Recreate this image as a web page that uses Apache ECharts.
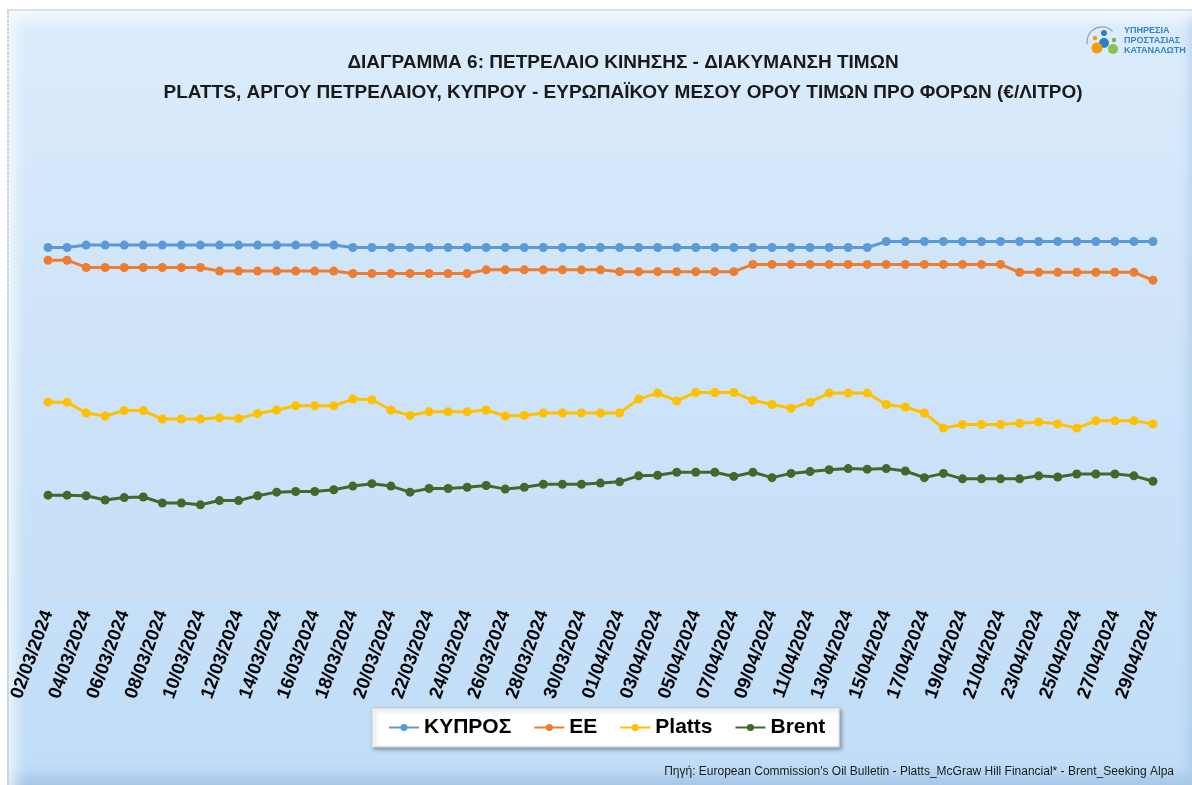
<!DOCTYPE html>
<html>
<head>
<meta charset="utf-8">
<script src="https://cdn.jsdelivr.net/npm/echarts@6/dist/echarts.min.js"></script>
<style>
  html, body { margin: 0; padding: 0; background: #ffffff; }
  #frame {
    position: absolute; left: 7px; top: 9px; width: 1185px; height: 776px;
    box-sizing: border-box;
    border-left: 2px dotted #d0d0d0; border-top: 2px solid #e0e0e0;
    background: linear-gradient(to bottom, #dcecfc 0%, #cfe4f9 40%, #c0ddf7 100%);
    box-shadow: inset 16px 18px 14px -10px rgba(255,255,255,0.75), inset -12px -20px 12px -10px rgba(120,160,200,0.35);
  }
  #chart { position: absolute; left: 0; top: 0; width: 1192px; height: 785px; }
</style>
</head>
<body>
<div id="frame"></div>
<div id="chart"></div>
<script>
const categories = [
  '02/03/2024','03/03/2024','04/03/2024','05/03/2024','06/03/2024','07/03/2024','08/03/2024','09/03/2024','10/03/2024','11/03/2024',
  '12/03/2024','13/03/2024','14/03/2024','15/03/2024','16/03/2024','17/03/2024','18/03/2024','19/03/2024','20/03/2024','21/03/2024',
  '22/03/2024','23/03/2024','24/03/2024','25/03/2024','26/03/2024','27/03/2024','28/03/2024','29/03/2024','30/03/2024','31/03/2024',
  '01/04/2024','02/04/2024','03/04/2024','04/04/2024','05/04/2024','06/04/2024','07/04/2024','08/04/2024','09/04/2024','10/04/2024',
  '11/04/2024','12/04/2024','13/04/2024','14/04/2024','15/04/2024','16/04/2024','17/04/2024','18/04/2024','19/04/2024','20/04/2024',
  '21/04/2024','22/04/2024','23/04/2024','24/04/2024','25/04/2024','26/04/2024','27/04/2024','28/04/2024','29/04/2024'
];
const cyprus = [
  0.872,0.872,0.876,0.876,0.876,0.876,0.876,0.876,0.876,0.876,
  0.876,0.876,0.876,0.876,0.876,0.876,0.872,0.872,0.872,0.872,
  0.872,0.872,0.872,0.872,0.872,0.872,0.872,0.872,0.872,0.872,
  0.872,0.872,0.872,0.872,0.872,0.872,0.872,0.872,0.872,0.872,
  0.872,0.872,0.872,0.872,0.882,0.882,0.882,0.882,0.882,0.882,
  0.882,0.882,0.882,0.882,0.882,0.882,0.882,0.882,0.882
];
const ee = [
  0.851,0.851,0.839,0.839,0.839,0.839,0.839,0.839,0.839,0.833,
  0.833,0.833,0.833,0.833,0.833,0.833,0.829,0.829,0.829,0.829,
  0.829,0.829,0.829,0.835,0.835,0.835,0.835,0.835,0.835,0.835,
  0.832,0.832,0.832,0.832,0.832,0.832,0.832,0.844,0.844,0.844,
  0.844,0.844,0.844,0.844,0.844,0.844,0.844,0.844,0.844,0.844,
  0.844,0.831,0.831,0.831,0.831,0.831,0.831,0.831,0.818
];
const platts = [
  0.616,0.616,0.598,0.593,0.602,0.602,0.588,0.588,0.588,0.590,
  0.589,0.597,0.603,0.610,0.610,0.610,0.621,0.620,0.603,0.594,
  0.600,0.600,0.600,0.603,0.593,0.594,0.598,0.598,0.598,0.598,
  0.598,0.621,0.631,0.618,0.632,0.632,0.632,0.619,0.612,0.606,
  0.616,0.631,0.631,0.631,0.612,0.608,0.598,0.573,0.579,0.579,
  0.579,0.581,0.583,0.580,0.573,0.585,0.585,0.585,0.580
];
const brent = [
  0.462,0.462,0.461,0.454,0.458,0.459,0.449,0.449,0.446,0.453,
  0.453,0.461,0.467,0.468,0.468,0.471,0.477,0.481,0.477,0.467,
  0.473,0.473,0.475,0.478,0.472,0.475,0.480,0.480,0.480,0.482,
  0.484,0.494,0.495,0.500,0.500,0.500,0.493,0.500,0.491,0.498,
  0.501,0.504,0.506,0.505,0.506,0.502,0.491,0.498,0.489,0.489,
  0.489,0.489,0.494,0.492,0.497,0.497,0.497,0.494,0.485
];
const seriesNames = ['ΚΥΠΡΟΣ', 'ΕΕ', 'Platts', 'Brent'];
const seriesColors = ['#5B9BD5', '#ED7D31', '#FFC000', '#43682B'];
const seriesData = [cyprus, ee, platts, brent];

const chart = echarts.init(document.getElementById('chart'), null, { renderer: 'canvas' });
const FONT = '"Liberation Sans", Arial, sans-serif';

chart.setOption({
  backgroundColor: 'transparent',
  animation: false,
  title: {
    text: 'ΔΙΑΓΡΑΜΜΑ 6: ΠΕΤΡΕΛΑΙΟ ΚΙΝΗΣΗΣ - ΔΙΑΚΥΜΑΝΣΗ ΤΙΜΩΝ\nPLATTS, ΑΡΓΟΥ ΠΕΤΡΕΛΑΙΟΥ, ΚΥΠΡΟΥ - ΕΥΡΩΠΑΪΚΟΥ ΜΕΣΟΥ ΟΡΟΥ ΤΙΜΩΝ ΠΡΟ ΦΟΡΩΝ (€/ΛΙΤΡΟ)',
    left: 618, top: 43, textAlign: 'center',
    textStyle: { fontFamily: FONT, fontSize: 19, fontWeight: 'bold', color: '#1a1a1a', lineHeight: 30, align: 'center' }
  },
  legend: {
    data: seriesNames,
    left: 372, top: 708,
    itemWidth: 30, itemHeight: 9, itemGap: 22,
    padding: [9, 14, 9, 16],
    backgroundColor: '#ffffff',
    borderColor: '#cfcfcf', borderWidth: 1,
    shadowColor: 'rgba(0,0,0,0.35)', shadowBlur: 4, shadowOffsetX: 2, shadowOffsetY: 2,
    textStyle: { fontFamily: FONT, fontSize: 21, fontWeight: 'bold', color: '#000' }
  },
  grid: { left: 38.5, right: 29.5, top: 140, bottom: 192 },
  xAxis: {
    type: 'category',
    data: categories,
    boundaryGap: true,
    axisLine: { show: true, lineStyle: { color: '#d9d9d9', width: 1 } },
    axisTick: { show: false },
    axisLabel: {
      interval: 1, rotate: 70, margin: 18,
      fontFamily: FONT, fontSize: 18.5, fontWeight: 'bold', color: '#000'
    }
  },
  yAxis: {
    type: 'value', min: 0.3, max: 1.05,
    show: false,
    splitLine: { show: false }
  },
  graphic: [
    { type: 'arc', shape: { cx: 1102, cy: 42, r: 15, startAngle: Math.PI * 0.95, endAngle: Math.PI * 1.75 },
      style: { stroke: '#9aa0a6', lineWidth: 1.2, fill: null } },
    { type: 'circle', shape: { cx: 1104, cy: 33, r: 3 }, style: { fill: '#2f7fc8' } },
    { type: 'circle', shape: { cx: 1095, cy: 38, r: 2.2 }, style: { fill: '#f39c12' } },
    { type: 'circle', shape: { cx: 1114, cy: 40, r: 2.2 }, style: { fill: '#7cb342' } },
    { type: 'circle', shape: { cx: 1104, cy: 43, r: 5 }, style: { fill: '#2f7fc8' } },
    { type: 'circle', shape: { cx: 1097, cy: 48, r: 5.5 }, style: { fill: '#f39c12' } },
    { type: 'circle', shape: { cx: 1113, cy: 49, r: 5 }, style: { fill: '#8bc34a' } },
    { type: 'text', left: 1124, top: 26,
      style: { text: 'ΥΠΗΡΕΣΙΑ\nΠΡΟΣΤΑΣΙΑΣ\nΚΑΤΑΝΑΛΩΤΗ', fill: '#2e86c8', font: 'bold 9px "Liberation Sans Narrow", "Liberation Sans", Arial', lineHeight: 10 } },
    { type: 'text', right: 18, top: 766,
      style: { text: "Πηγή: European Commission's Oil Bulletin - Platts_McGraw Hill Financial* - Brent_Seeking Alpa",
        fill: '#1a1a1a', font: '12px "Liberation Sans", Arial' } }
  ],
  series: seriesNames.map((name, i) => ({
    name: name,
    type: 'line',
    data: seriesData[i],
    symbol: 'circle',
    symbolSize: 9,
    lineStyle: { width: 3, color: seriesColors[i] },
    itemStyle: { color: seriesColors[i] }
  }))
});
</script>
</body>
</html>
